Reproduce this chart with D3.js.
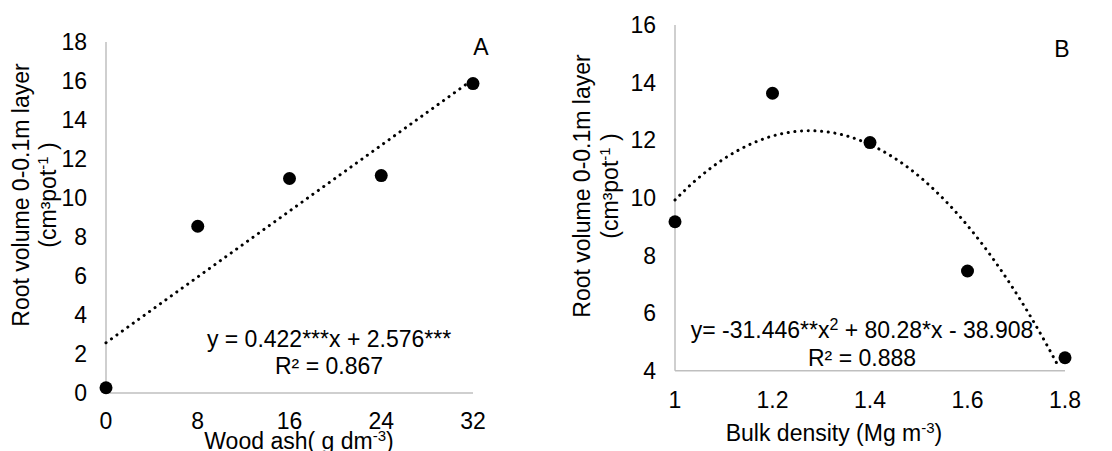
<!DOCTYPE html>
<html>
<head>
<meta charset="utf-8">
<script src="https://cdn.jsdelivr.net/npm/d3@7"></script>
<style>
  body { margin: 0; background: #fff; }
  svg { font-family: "Liberation Sans", Arial, sans-serif; }
</style>
</head>
<body>
<svg id="chart" width="1112" height="451"></svg>
<script>
// panel A : wood ash
const doseAsh = [0, 8, 16, 24, 32];
const volAsh = [0.27, 8.55, 11.0, 11.15, 15.87];
const ticksAshX = [0, 8, 16, 24, 32];
const ticksAshY = [0, 2, 4, 6, 8, 10, 12, 14, 16, 18];
const coefAsh = [0.422, 2.576]; // y = a x + b

// panel B : bulk density
const densite = [1, 1.2, 1.4, 1.6, 1.8];
const volDens = [9.17, 13.63, 11.92, 7.46, 4.45];
const ticksDensX = [1, 1.2, 1.4, 1.6, 1.8];
const ticksDensY = [4, 6, 8, 10, 12, 14, 16];
const coefDens = [-31.446, 80.28, -38.908]; // y = a x^2 + b x + c

const svg = d3.select("#chart");
const gris = "#bfbfbf";
const taille = "23px";
const petit = "15px";

function axes(g, x, y, ticksX, ticksY, labelY) {
    const [x0, x1] = x.range();
    const [y0, y1] = y.range();
    g.append("line").attr("x1", x0).attr("x2", x0).attr("y1", y0).attr("y2", y1)
        .style("stroke", gris).style("stroke-width", 1.5);
    g.append("line").attr("x1", x0).attr("x2", x1).attr("y1", y0).attr("y2", y0)
        .style("stroke", gris).style("stroke-width", 1.5);

    g.selectAll(".tickY").data(ticksY).enter().append("text")
        .attr("class", "tickY")
        .attr("x", x0 - 19)
        .attr("y", (d) => y(d))
        .attr("dy", "0.35em")
        .attr("text-anchor", "end")
        .style("font-size", taille)
        .text((d) => d);

    g.selectAll(".tickX").data(ticksX).enter().append("text")
        .attr("class", "tickX")
        .attr("x", (d) => x(d))
        .attr("y", labelY)
        .attr("dy", "0.35em")
        .attr("text-anchor", "middle")
        .style("font-size", taille)
        .text((d) => d);
}

function points(g, x, y, xs, ys) {
    g.selectAll(".pt").data(xs).enter().append("circle")
        .attr("class", "pt")
        .attr("cx", (d) => x(d))
        .attr("cy", (d, i) => y(ys[i]))
        .attr("r", 6.5)
        .style("fill", "black");
}

function courbe(g, x, y, f, a, b, ymin) {
    let pts = d3.range(0, 201).map((i) => a + (b - a) * i / 200)
        .map((v) => [v, f(v)])
        .filter((p) => p[1] >= ymin);
    g.append("path")
        .attr("d", d3.line().x((p) => x(p[0])).y((p) => y(p[1]))(pts))
        .style("fill", "none")
        .style("stroke", "black")
        .style("stroke-width", 3)
        .style("stroke-linecap", "round")
        .style("stroke-dasharray", "0.1 6.6");
}

function titreY(g, cx1, cx2, cy) {
    g.append("text")
        .attr("transform", `translate(${cx1},${cy}) rotate(-90)`)
        .attr("text-anchor", "middle").attr("dy", "0.35em")
        .style("font-size", taille)
        .text("Root volume 0-0.1m layer");
    let t = g.append("text")
        .attr("transform", `translate(${cx2},${cy}) rotate(-90)`)
        .attr("text-anchor", "middle").attr("dy", "0.35em")
        .style("font-size", taille);
    t.append("tspan").text("(cm³pot");
    t.append("tspan").attr("baseline-shift", "super").style("font-size", petit).text("-1");
    t.append("tspan").text(" )");
}

// ---------- A ----------
const gA = svg.append("g");
const xA = d3.scaleLinear().domain([0, 32]).range([106, 473]);
const yA = d3.scaleLinear().domain([0, 18]).range([393, 42]);

axes(gA, xA, yA, ticksAshX, ticksAshY, 421);
courbe(gA, xA, yA, (v) => coefAsh[0] * v + coefAsh[1], 0, 32, 0);
points(gA, xA, yA, doseAsh, volAsh);
titreY(gA, 21, 48, 195);

let tA = gA.append("text").attr("x", 299).attr("y", 441).attr("dy", "0.35em")
    .attr("text-anchor", "middle").style("font-size", taille);
tA.append("tspan").text("Wood ash( g dm");
tA.append("tspan").attr("baseline-shift", "super").style("font-size", petit).text("-3");
tA.append("tspan").text(")");

gA.append("text").attr("x", 481).attr("y", 47).attr("dy", "0.35em")
    .attr("text-anchor", "middle").style("font-size", taille).text("A");

gA.append("text").attr("x", 329).attr("y", 339).attr("dy", "0.35em")
    .attr("text-anchor", "middle").style("font-size", taille)
    .text("y = 0.422***x + 2.576***");
gA.append("text").attr("x", 329).attr("y", 366).attr("dy", "0.35em")
    .attr("text-anchor", "middle").style("font-size", taille).text("R² = 0.867");

// ---------- B ----------
const gB = svg.append("g");
const xB = d3.scaleLinear().domain([1, 1.8]).range([675, 1065]);
const yB = d3.scaleLinear().domain([4, 16]).range([370.7, 25]);

axes(gB, xB, yB, ticksDensX, ticksDensY, 400);
courbe(gB, xB, yB, (v) => coefDens[0] * v * v + coefDens[1] * v + coefDens[2], 1, 1.8, 4);
points(gB, xB, yB, densite, volDens);
titreY(gB, 582, 610, 186);

let tB = gB.append("text").attr("x", 834).attr("y", 433).attr("dy", "0.35em")
    .attr("text-anchor", "middle").style("font-size", taille);
tB.append("tspan").text("Bulk density (Mg m");
tB.append("tspan").attr("baseline-shift", "super").style("font-size", petit).text("-3");
tB.append("tspan").text(")");

gB.append("text").attr("x", 1062).attr("y", 49).attr("dy", "0.35em")
    .attr("text-anchor", "middle").style("font-size", taille).text("B");

let eqB = gB.append("text").attr("x", 862).attr("y", 330).attr("dy", "0.35em")
    .attr("text-anchor", "middle").style("font-size", taille);
eqB.append("tspan").text("y= -31.446**x");
eqB.append("tspan").attr("baseline-shift", "super").style("font-size", "16px").text("2");
eqB.append("tspan").text(" + 80.28*x - 38.908");
gB.append("text").attr("x", 862).attr("y", 358).attr("dy", "0.35em")
    .attr("text-anchor", "middle").style("font-size", taille).text("R² = 0.888");
</script>
</body>
</html>
